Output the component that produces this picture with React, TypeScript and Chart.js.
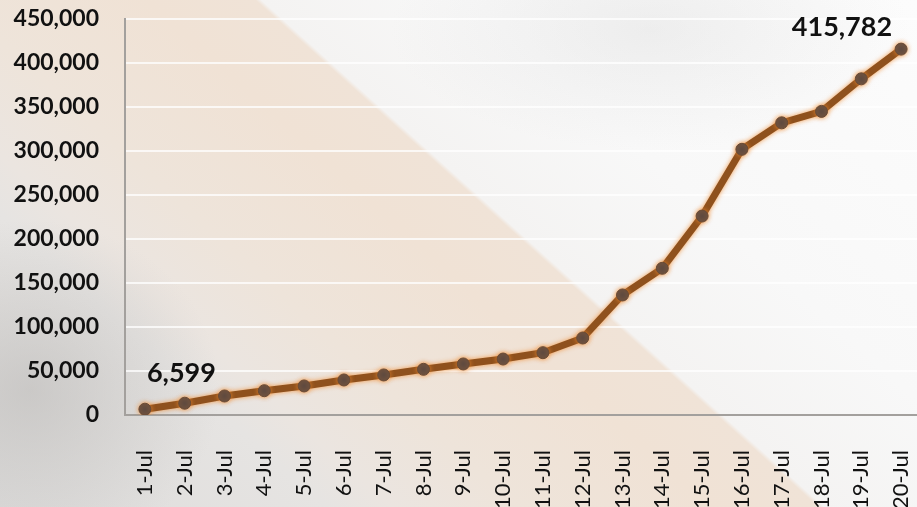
import React, { useEffect, useRef } from "react";
import { Chart, registerables } from "chart.js";

Chart.register(...registerables);

const categories: string[] = [
  "1-Jul", "2-Jul", "3-Jul", "4-Jul", "5-Jul", "6-Jul", "7-Jul", "8-Jul", "9-Jul", "10-Jul",
  "11-Jul", "12-Jul", "13-Jul", "14-Jul", "15-Jul", "16-Jul", "17-Jul", "18-Jul", "19-Jul", "20-Jul",
];

const cases: number[] = [
  6599, 13400, 21600, 27600, 33000, 39800, 45500, 51900, 58000, 63600,
  70800, 87500, 136400, 166700, 226100, 301900, 332000, 345000, 382000, 415782,
];

const labelledIndices: number[] = [0, 19];
const yTicksMax = 450000;
const yStep = 50000;

const labelFont = "Lato, 'Open Sans', sans-serif";

const glowPlugin = {
  id: "glow",
  beforeDatasetDraw(chart: any) {
    const ctx = chart.ctx;
    ctx.save();
    ctx.shadowColor = "rgba(240,140,50,0.85)";
    ctx.shadowBlur = 5;
  },
  afterDatasetDraw(chart: any) {
    chart.ctx.restore();
  },
};

const valueLabelPlugin = {
  id: "valueLabels",
  afterDatasetsDraw(chart: any) {
    const ctx = chart.ctx;
    const meta = chart.getDatasetMeta(0);
    ctx.save();
    ctx.font = `bold 27px ${labelFont}`;
    ctx.fillStyle = "#111";
    ctx.textBaseline = "alphabetic";
    labelledIndices.forEach((i) => {
      const pt = meta.data[i];
      const text = cases[i].toLocaleString("en-US");
      if (i === 0) {
        ctx.textAlign = "left";
        ctx.fillText(text, pt.x + 2, pt.y - 27);
      } else {
        ctx.textAlign = "right";
        ctx.fillText(text, pt.x - 9, pt.y - 13);
      }
    });
    ctx.restore();
  },
};

export default function App() {
  const ref = useRef<HTMLCanvasElement | null>(null);

  useEffect(() => {
    if (!ref.current) return;
    const chart = new Chart(ref.current, {
      type: "line",
      data: {
        labels: categories,
        datasets: [
          {
            data: cases,
            borderColor: "#8f511d",
            borderWidth: 7,
            pointRadius: 6,
            pointBackgroundColor: "#5a4840",
            pointBorderColor: "#6a4a34",
            pointBorderWidth: 1,
            tension: 0,
          },
        ],
      },
      options: {
        animation: false,
        responsive: false,
        maintainAspectRatio: false,
        layout: { padding: { top: 19, left: 0, right: 0, bottom: 0 } },
        plugins: { legend: { display: false }, tooltip: { enabled: false } },
        scales: {
          x: {
            offset: true,
            grid: { display: false, drawTicks: false },
            border: { display: true, color: "#a3a09d", width: 2 },
            ticks: {
              minRotation: 90,
              maxRotation: 90,
              padding: 35,
              color: "#111",
              font: { family: labelFont, size: 22 },
              autoSkip: false,
            },
            afterFit: (scale: any) => {
              scale.height = 92;
              scale.paddingLeft = 0;
              scale.paddingRight = 0;
            },
          },
          y: {
            min: 0,
            max: yTicksMax,
            ticks: {
              stepSize: yStep,
              padding: 26,
              color: "#111",
              font: { family: labelFont, size: 23, weight: "bold" },
              callback: (v: any) => Number(v).toLocaleString("en-US"),
            },
            grid: { color: "rgba(255,255,255,0.75)", lineWidth: 2, drawTicks: false },
            border: { display: true, color: "#a3a09d", width: 2 },
            afterFit: (scale: any) => {
              scale.width = 125;
              scale.paddingTop = 0;
              scale.paddingBottom = 0;
            },
          },
        },
      },
      plugins: [glowPlugin, valueLabelPlugin],
    });
    return () => chart.destroy();
  }, []);

  const bg = [
    "radial-gradient(ellipse 190px 170px at 30px 390px, rgba(180,178,176,0.5), rgba(180,178,176,0) 100%)",
    "radial-gradient(ellipse 260px 120px at 650px 30px, rgba(215,215,215,0.35), rgba(215,215,215,0) 100%)",
    "linear-gradient(42deg, #dddcdb 0%, #e6e4e2 22%, #ebe5e0 26.5%, #eee4da 35%, #f0e2d5 48%, #f0e3d7 55.3%, #f4f3f2 55.7%, #f8f8f8 70%, #fcfcfc 100%)",
  ].join(", ");

  return (
    <div
      style={{
        position: "fixed",
        left: 0,
        top: 0,
        width: 917,
        height: 507,
        overflow: "hidden",
        background: bg,
      }}
    >
      <canvas ref={ref} width={928} height={507} style={{ display: "block", width: 928, height: 507 }} />
    </div>
  );
}
